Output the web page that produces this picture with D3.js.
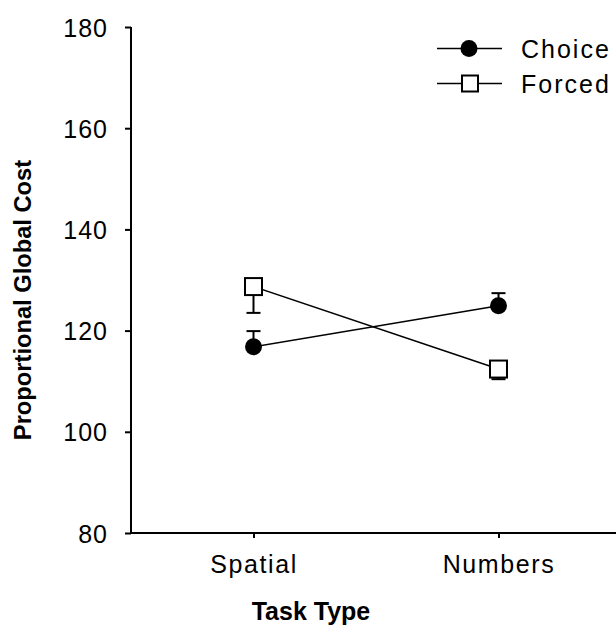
<!DOCTYPE html>
<html>
<head>
<meta charset="utf-8">
<script src="https://cdn.jsdelivr.net/npm/d3@7"></script>
<style>
  html, body { margin: 0; padding: 0; background: #fff; }
  svg { display: block; }
  text { font-family: "Liberation Sans", Arial, sans-serif; fill: #000; }
</style>
</head>
<body>
<svg id="chart" width="616" height="628"></svg>
<script>
// ---- data ----
const categories = ["Spatial", "Numbers"];
const choiceValues = [116.8, 124.9];
const choiceErrors = [3.1, 2.5];     // drawn upward
const forcedValues = [128.7, 112.4];
const forcedErrors = [5.2, 2.0];     // drawn downward
const yTicks = [80, 100, 120, 140, 160, 180];
const seriesNames = ["Choice", "Forced"];
const xTitle = "Task Type";
const yTitle = "Proportional Global Cost";

// ---- layout ----
const svg = d3.select("#chart");
const x = d3.scalePoint().domain(categories).range([131, 621]).padding(0.5);
const y = d3.scaleLinear().domain([80, 180]).range([533, 27]);

// axes
const yAxis = d3.axisLeft(y).tickValues(yTicks).tickSize(6).tickPadding(17).tickSizeOuter(0);
const gy = svg.append("g").attr("transform", "translate(131,0)").call(yAxis);
gy.select(".domain").remove();
gy.selectAll(".tick line").attr("stroke", "#000").attr("stroke-width", 2);
gy.selectAll(".tick text").style("font-size", "25px").style("letter-spacing", "1px").attr("dy", "0.36em");

const xAxis = d3.axisBottom(x).tickSize(5).tickPadding(17).tickSizeOuter(0);
const gx = svg.append("g").attr("transform", "translate(0,533)").call(xAxis);
gx.select(".domain").remove();
gx.selectAll(".tick line").attr("stroke", "#000").attr("stroke-width", 2);
gx.selectAll(".tick text").style("font-size", "25px").style("letter-spacing", "1.6px").attr("dy", "0.71em");

// axis lines
svg.append("line").attr("x1", 131).attr("x2", 131).attr("y1", y(180)).attr("y2", y(80))
  .attr("stroke", "#000").attr("stroke-width", 2);
svg.append("line").attr("x1", 130).attr("x2", 616).attr("y1", y(80)).attr("y2", y(80))
  .attr("stroke", "#000").attr("stroke-width", 2);

// titles
svg.append("text").attr("x", 311).attr("y", 620).attr("text-anchor", "middle")
  .style("font-size", "25px").style("font-weight", "bold").text(xTitle);
svg.append("text").attr("transform", "translate(31,300) rotate(-90)").attr("text-anchor", "middle")
  .style("font-size", "23.7px").style("font-weight", "bold").text(yTitle);

// series
const choice = categories.map((c, i) => ({ c, v: choiceValues[i], e: choiceErrors[i] }));
const forced = categories.map((c, i) => ({ c, v: forcedValues[i], e: forcedErrors[i] }));
const line = d3.line().x(d => x(d.c)).y(d => y(d.v));

svg.append("path").datum(choice).attr("d", line).attr("fill", "none").attr("stroke", "#000").attr("stroke-width", 1.6);
svg.append("path").datum(forced).attr("d", line).attr("fill", "none").attr("stroke", "#000").attr("stroke-width", 1.6);

// error bars
function errBars(data, dir) {
  const g = svg.append("g").attr("stroke", "#000").attr("stroke-width", 2);
  data.forEach(d => {
    const y0 = y(d.v), y1 = y(d.v + dir * d.e);
    g.append("line").attr("x1", x(d.c)).attr("x2", x(d.c)).attr("y1", y0).attr("y2", y1);
    g.append("line").attr("x1", x(d.c) - 7).attr("x2", x(d.c) + 7).attr("y1", y1).attr("y2", y1);
  });
}
errBars(choice, 1);
errBars(forced, -1);

// markers
svg.append("g").selectAll("circle").data(choice).join("circle")
  .attr("cx", d => x(d.c)).attr("cy", d => y(d.v)).attr("r", 8.5).attr("fill", "#000");
svg.append("g").selectAll("rect").data(forced).join("rect")
  .attr("x", d => x(d.c) - 8.5).attr("y", d => y(d.v) - 8.5).attr("width", 17).attr("height", 17)
  .attr("fill", "#fff").attr("stroke", "#000").attr("stroke-width", 2);

// legend
const legY = [48.5, 83.5];
seriesNames.forEach((name, i) => {
  const g = svg.append("g");
  g.append("line").attr("x1", 437).attr("x2", 502).attr("y1", legY[i]).attr("y2", legY[i])
    .attr("stroke", "#000").attr("stroke-width", 1.6);
  if (i === 0) {
    g.append("circle").attr("cx", 469).attr("cy", legY[i]).attr("r", 8.5).attr("fill", "#000");
  } else {
    g.append("rect").attr("x", 470 - 8).attr("y", legY[i] - 8).attr("width", 16).attr("height", 16)
      .attr("fill", "#fff").attr("stroke", "#000").attr("stroke-width", 2);
  }
  g.append("text").attr("x", 521).attr("y", legY[i]).attr("dy", "0.36em")
    .style("font-size", "25px").style("letter-spacing", "2px").text(name);
});
</script>
</body>
</html>
